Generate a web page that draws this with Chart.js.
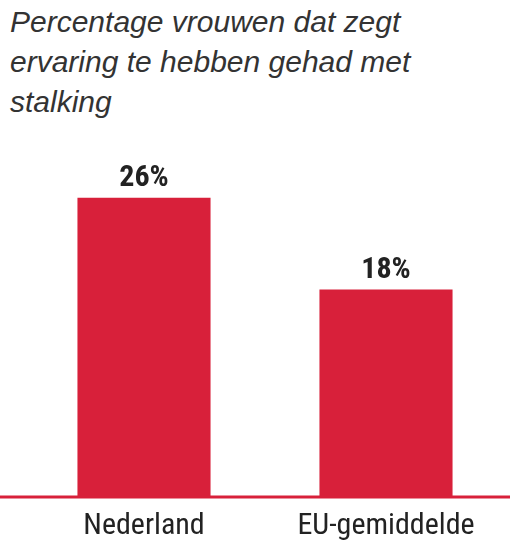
<!DOCTYPE html>
<html>
<head>
<meta charset="utf-8">
<script src="https://cdn.jsdelivr.net/npm/chart.js@4"></script>
<style>
  body { margin: 0; background: #fff; width: 520px; height: 556px; position: relative; overflow: hidden; }
  #title { position: absolute; left: 10px; top: 2px; width: 505px; font-family: "Liberation Sans", Arial, sans-serif; font-style: italic; font-size: 30px; line-height: 40px; color: #333; }
  #wrap { position: absolute; left: 0; top: 152px; width: 520px; height: 404px; }
</style>
</head>
<body>
<div id="title">Percentage vrouwen dat zegt ervaring te hebben gehad met stalking</div>
<div id="wrap"><canvas id="chart"></canvas></div>
<script>
const categories = ['Nederland', 'EU-gemiddelde'] ;
const values = [26, 18] ;
const valueLabels = ['26%', '18%'] ;
const barColor = '#d8203a' ;
const narrow = '"Liberation Sans Narrow", "Roboto Condensed", "Liberation Sans", sans-serif' ;

// labels above the bars and the red baseline across the whole width
const extras = {
    id: 'extras',
    afterDatasetsDraw(chart) {
        const { ctx, chartArea: { bottom } } = chart ;
        ctx.save() ;
        ctx.font = 'bold 30px ' + narrow ;
        ctx.fillStyle = '#222' ;
        ctx.textAlign = 'center' ;
        ctx.textBaseline = 'bottom' ;
        chart.getDatasetMeta(0).data.forEach((bar, i) => {
            ctx.fillText(valueLabels[i], bar.x, bar.y - 4) ;
        }) ;
        ctx.strokeStyle = barColor ;
        ctx.lineWidth = 3 ;
        ctx.beginPath() ;
        ctx.moveTo(0, bottom + 1) ;
        ctx.lineTo(510, bottom + 1) ;
        ctx.stroke() ;
        ctx.restore() ;
    }
}

new Chart(document.getElementById('chart'), {
    type: 'bar',
    data: {
        labels: categories,
        datasets: [{
            data: values,
            backgroundColor: barColor,
            categoryPercentage: 1,
            barPercentage: 0.55
        }]
    },
    options: {
        responsive: true,
        maintainAspectRatio: false,
        animation: false,
        layout: { padding: { left: 23, right: 13, top: 0, bottom: 8 } },
        scales: {
            y: { display: false, min: 0, max: 30 },
            x: {
                grid: { display: false },
                border: { display: false },
                ticks: { color: '#222', font: { family: narrow, size: 30 }, padding: 4 }
            }
        },
        plugins: { legend: { display: false }, tooltip: { enabled: false } }
    },
    plugins: [extras]
});
</script>
</body>
</html>
